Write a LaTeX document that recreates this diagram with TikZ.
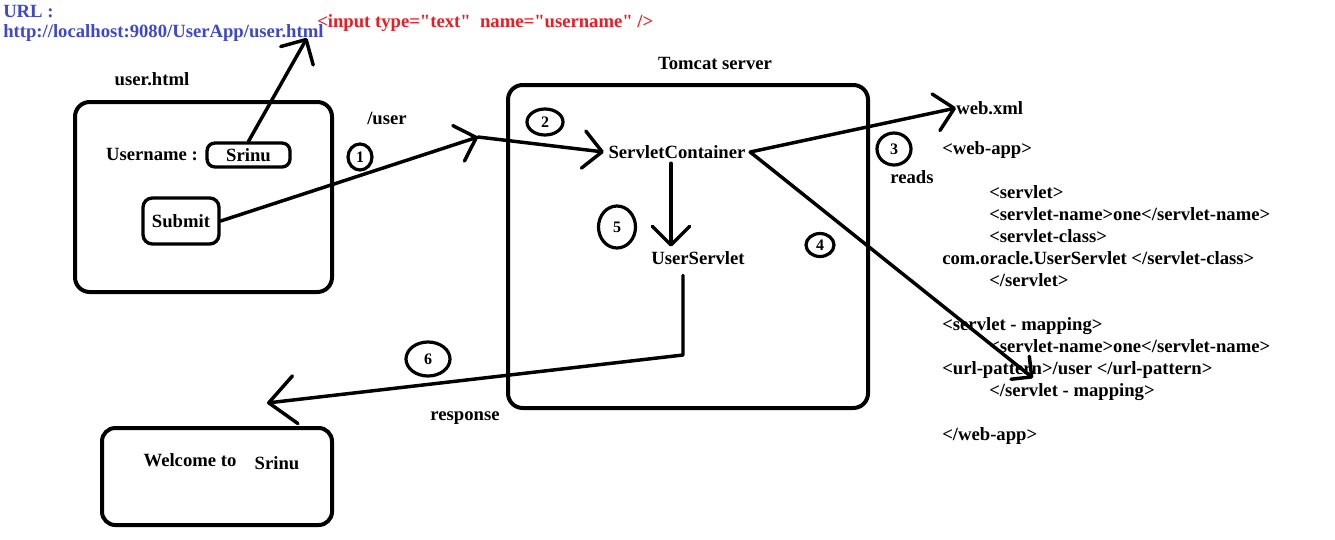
\documentclass[tikz,border=0pt]{standalone}
\usepackage{fontspec}
\setmainfont{Liberation Serif}[Ligatures=TeXOff]
\usepackage{tikz}
\usetikzlibrary{arrows.meta,shapes.geometric}
\definecolor{urlblue}{RGB}{63,72,204}
\definecolor{tagred}{RGB}{237,28,36}
\tikzstyle{box}=[draw, line width=3pt, rounded corners=11pt]
\tikzstyle{smallbox}=[draw, line width=2.5pt, rounded corners=7pt]
\tikzstyle{num}=[ellipse, draw, line width=2.4pt, inner sep=0pt, font=\fontsize{12}{13}\selectfont\bfseries]
\tikzstyle{textline}=[anchor=west, inner sep=0pt]
\tikzstyle{arrow}=[draw=black, line width=2.6pt, line cap=round, line join=round, -{Straight Barb[length=14pt, width=28pt, round]}]

\begin{document}
\begin{tikzpicture}[x=0.75pt, y=-0.75pt, every node/.style={font=\fontsize{14}{16.5}\selectfont\bfseries}]
	\useasboundingbox (0,0) rectangle (1335,539);
	\begin{scope}
		% browser page
		\node[textline, text=urlblue] (urllabel) at (3,12) {URL :};
		\node[textline, text=urlblue] (url) at (3,33) {http://localhost:9080/UserApp/user.html};
		\node[textline, text=tagred] (input) at (317,23) {<input type="text"\ \ name="username" />};
		\node (userhtml) at (152,79) {user.html};
		\node[box, minimum width=192.75pt, minimum height=142.5pt] (userpage) at (203.5,197) {};
		\node (username) at (152,155) {Username :};
		\node[smallbox, rounded corners=6pt, minimum width=62.25pt, minimum height=18pt] (srinu) at (248.5,155) {Srinu};
		\node[smallbox, minimum width=57pt, minimum height=34.5pt] (submit) at (181,221) {Submit};
		% server
		\node (tomcatlabel) at (715,63) {Tomcat server};
		\node[box, minimum width=270pt, minimum height=242.25pt] (tomcat) at (688,246.5) {};
		\node (container) at (677,152) {ServletContainer};
		\node (userservlet) at (698,258) {UserServlet};
		\node (urlpath) at (387,118) {/user};
		\node (reads) at (912,177) {reads};
		\node (response) at (465,418) {response};
		% deployment descriptor
		\node[textline] (webxml) at (956,108) {web.xml};
		\node[anchor=north west, align=left, inner sep=0pt] (webapp) at (942,141) {<web-app>\\[16.5pt]
			\hspace*{35.25pt}<servlet>\\
			\hspace*{35.25pt}<servlet-name>one</servlet-name>\\
			\hspace*{35.25pt}<servlet-class>\\
			com.oracle.UserServlet </servlet-class>\\
			\hspace*{35.25pt}</servlet>\\[16.5pt]
			<servlet - mapping>\\
			\hspace*{35.25pt}<servlet-name>one</servlet-name>\\
			<url-pattern>/user </url-pattern>\\
			\hspace*{35.25pt}</servlet - mapping>\\[16.5pt]
			</web-app>};
		% result page
		\node[box, rounded corners=10pt, minimum width=172.5pt, minimum height=72.75pt] (welcome) at (217,476.5) {};
		\node (welcometext) at (190,460) {Welcome to};
		\node (welcomename) at (277,463) {Srinu};
		% steps
		\node[num, minimum width=18pt, minimum height=19.5pt] (one) at (360,157) {1};
		\node[num, minimum width=27pt, minimum height=19.5pt] (two) at (545,122) {2};
		\node[num, minimum width=25.5pt, minimum height=24pt] (three) at (894,149) {3};
		\node[num, minimum width=21pt, minimum height=17.25pt] (four) at (820,245) {4};
		\node[num, minimum width=27.75pt, minimum height=31.5pt] (five) at (617,227) {5};
		\node[num, minimum width=33pt, minimum height=25.5pt] (six) at (428,359) {6};
		\coordinate (urltip) at (307,38);
		\coordinate (bend) at (478,137);
		\coordinate (patterntip) at (1033,378);
		\coordinate (turn) at (683,355);
		\coordinate (resptip) at (267,403);
	\end{scope}
	\begin{scope}
		\draw[arrow] (srinu.north) -- (urltip);
		\draw[arrow] (submit.east) -- (bend);
		\draw[arrow] (bend) -- (container.west);
		\draw[arrow] (container.east) -- (webxml.west);
		\draw[arrow, -{Straight Barb[length=11pt, width=22pt, round]}] (container.east) -- (patterntip);
		\draw[arrow] ([xshift=-4.5pt]container.south) -- ([xshift=-4.5pt]container.south |- userservlet.north);
		\draw[arrow, -{Straight Barb[length=20pt, width=36pt, round]}] (userservlet.south -| turn) ++(0,6) -- (turn) -- (resptip);
	\end{scope}
\end{tikzpicture}
\end{document}
